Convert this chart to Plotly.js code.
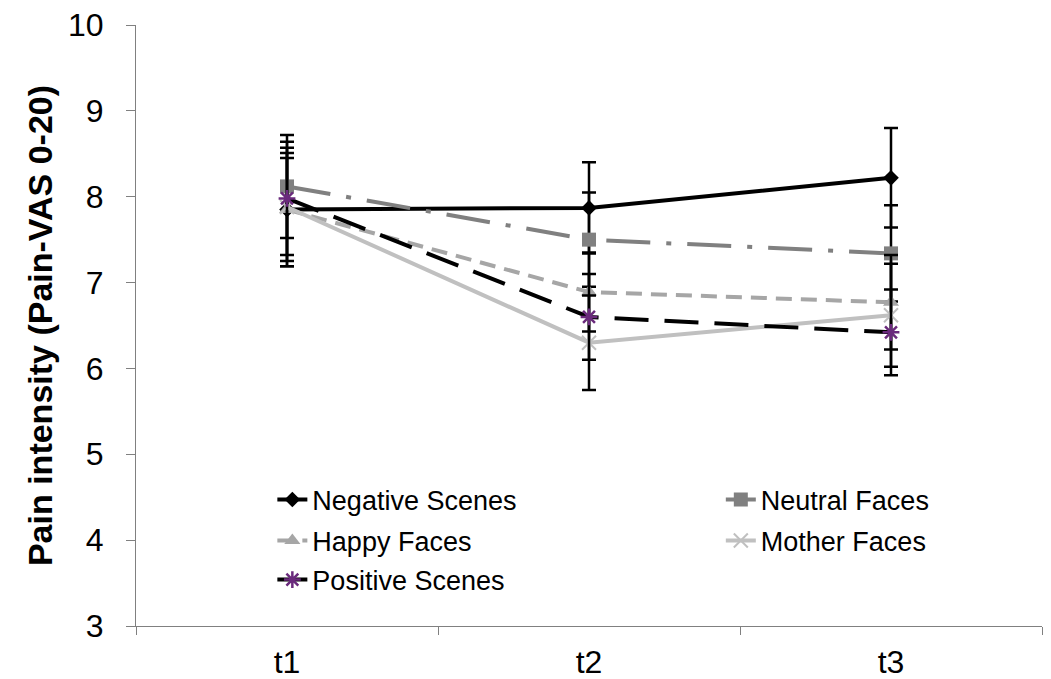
<!DOCTYPE html>
<html>
<head>
<meta charset="utf-8">
<script src="https://cdn.plot.ly/plotly-3.0.1.min.js"></script>
<style>html,body{margin:0;padding:0;background:#fff;}#chart{width:1051px;height:679px;}</style>
</head>
<body>
<div id="chart"></div>
<script>
var timePoints = ['t1', 't2', 't3'];
var seriesNames = ['Negative Scenes', 'Neutral Faces', 'Happy Faces', 'Mother Faces', 'Positive Scenes'];
var negativeScenes = [7.85, 7.87, 8.22];
var neutralFaces = [8.12, 7.50, 7.34];
var happyFaces = [7.85, 6.89, 6.77];
var motherFaces = [7.88, 6.30, 6.62];
var positiveScenes = [7.98, 6.60, 6.42];
var negativeErr = [0.66, 0.53, 0.58];
var neutralErr = [0.60, 0.55, 0.56];
var happyErr = [0.60, 0.46, 0.55];
var motherErr = [0.69, 0.55, 0.60];
var positiveErr = [0.66, 0.50, 0.50];
var yTicks = [3, 4, 5, 6, 7, 8, 9, 10];

var FONT = 'Liberation Sans, Arial, sans-serif';

function errBar(arr) {
  return {type: 'data', array: arr, visible: true, color: '#000000', thickness: 2.5, width: 7};
}

var traces = [
  {x: timePoints, y: negativeScenes, name: seriesNames[0], type: 'scatter', mode: 'lines+markers',
   line: {color: '#000000', width: 4}, marker: {symbol: 'diamond', size: 12, color: '#000000'},
   error_y: errBar(negativeErr), legend: 'legend'},
  {x: timePoints, y: neutralFaces, name: seriesNames[1], type: 'scatter', mode: 'lines+markers',
   line: {color: '#808080', width: 4, dash: '44px,16px,5px,16px'}, marker: {symbol: 'square', size: 14, color: '#808080'},
   error_y: errBar(neutralErr), legend: 'legend2'},
  {x: timePoints, y: happyFaces, name: seriesNames[2], type: 'scatter', mode: 'lines+markers',
   line: {color: '#a6a6a6', width: 4, dash: '16px,9px'}, marker: {symbol: 'triangle-up', size: 14, color: '#a6a6a6'},
   error_y: errBar(happyErr), legend: 'legend3'},
  {x: timePoints, y: motherFaces, name: seriesNames[3], type: 'scatter', mode: 'lines+markers',
   line: {color: '#c0c0c0', width: 4}, marker: {symbol: 'x-thin-open', size: 14, color: '#c0c0c0', line: {color: '#c0c0c0', width: 2}},
   error_y: errBar(motherErr), legend: 'legend4'},
  {x: timePoints, y: positiveScenes, name: seriesNames[4], type: 'scatter', mode: 'lines+markers',
   line: {color: '#000000', width: 4, dash: '34px,16px'}, marker: {symbol: 'asterisk-open', size: 14, color: '#6a2a7c', line: {color: '#6a2a7c', width: 2.5}},
   error_y: errBar(positiveErr), legend: 'legend5'}
];

function leg(x, y) {
  return {orientation: 'h', xanchor: 'left', yanchor: 'middle', x: x, y: y,
    font: {family: FONT, size: 27, color: '#000000'}, bgcolor: 'rgba(0,0,0,0)', borderwidth: 0};
}

var col1 = 0.1505, col2 = 0.6455;
var row1 = 0.2097, row2 = 0.1414, row3 = 0.0765;

var layout = {
  width: 1051, height: 679,
  margin: {l: 136, r: 9, t: 25, b: 53},
  paper_bgcolor: '#ffffff', plot_bgcolor: '#ffffff',
  font: {family: FONT, color: '#000000'},
  showlegend: true,
  legend: leg(col1, row1),
  legend2: leg(col2, row1),
  legend3: leg(col1, row2),
  legend4: leg(col2, row2),
  legend5: leg(col1, row3),
  xaxis: {type: 'category', range: [-0.5, 2.5], tickson: 'boundaries', ticks: 'outside', ticklen: 8, tickcolor: '#808080',
    showline: true, linecolor: '#808080', linewidth: 1, showgrid: false, zeroline: false, ticklabelstandoff: 8,
    tickfont: {size: 32, family: FONT}},
  yaxis: {range: [3, 10], tickvals: yTicks, ticks: 'outside', ticklen: 9, tickcolor: '#808080',
    showline: true, linecolor: '#808080', linewidth: 1, showgrid: false, zeroline: false, ticklabelstandoff: 16,
    tickfont: {size: 32, family: FONT},
    title: {text: '<b>Pain intensity (Pain-VAS 0-20)</b>', font: {size: 34, family: FONT}, standoff: 5}}
};

Plotly.newPlot('chart', traces, layout, {displayModeBar: false, staticPlot: true});
</script>
</body>
</html>
